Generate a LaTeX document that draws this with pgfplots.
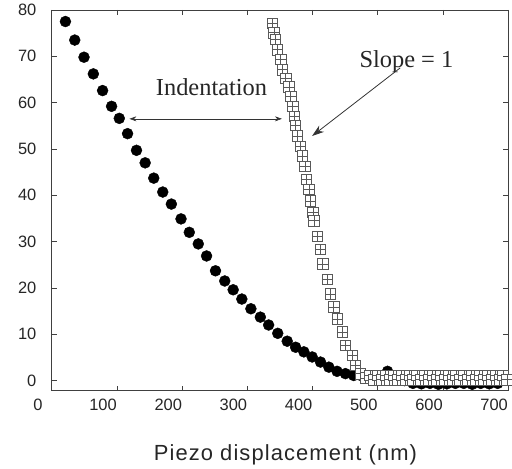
\documentclass[border=0pt]{standalone}
\usepackage{fontspec}
\setmainfont{Liberation Serif}
\newfontfamily\arial{Liberation Sans}
\newfontfamily\arialsp[LetterSpace=5]{Liberation Sans}
\usepackage{pgfplots}
\pgfplotsset{compat=1.18}
\usetikzlibrary{arrows.meta,calc}

% open square with a cross inside
\pgfdeclareplotmark{sqplus}{%
  \pgfpathrectangle{\pgfqpoint{-\pgfplotmarksize}{-\pgfplotmarksize}}{\pgfqpoint{2\pgfplotmarksize}{2\pgfplotmarksize}}%
  \pgfusepathqfillstroke
  \pgfpathmoveto{\pgfqpoint{-\pgfplotmarksize}{0pt}}\pgfpathlineto{\pgfqpoint{\pgfplotmarksize}{0pt}}%
  \pgfpathmoveto{\pgfqpoint{0pt}{-\pgfplotmarksize}}\pgfpathlineto{\pgfqpoint{0pt}{\pgfplotmarksize}}%
  \pgfusepathqstroke}

\pgfplotstableread{
x y
20.9 77.5
35.2 73.5
49.4 69.8
63.7 66.2
77.9 62.6
91.7 59.2
103.5 56.6
116.2 53.3
129.9 49.7
143.2 47.0
156.4 43.7
170.2 40.7
183.4 38.1
198.2 34.9
210.9 32.0
224.7 29.5
237.4 26.9
251.1 23.7
265.3 21.5
278.2 19.6
291.5 17.6
305.4 15.5
319.9 13.7
332.6 12.0
346.6 10.2
361.1 8.5
374.0 7.2
386.7 6.2
399.4 5.1
412.2 4.0
425.0 2.9
437.6 2.0
450.4 1.5
463.1 1.1
476.0 1.0
489.0 1.0
502.0 0.8
515.0 2.0
528.0 0.5
541.0 0.0
554.0 -0.6
567.0 -0.7
580.0 -0.6
593.0 -0.8
606.0 -0.7
619.0 -0.6
632.0 -0.6
645.0 -0.8
658.0 -0.6
671.0 -0.7
684.0 -0.6
}\approach

\pgfplotstableread{
x y
338.2 77.1
340.8 75.1
342.4 73.7
345.9 71.4
351.1 69.4
353.5 67.1
358.7 65.3
363.8 63.4
366.5 61.4
369.5 59.2
371.5 57.1
374.0 55.1
376.5 52.8
381.6 50.6
384.1 48.5
388.2 46.3
390.2 43.4
394.3 41.3
396.9 38.8
400.4 36.3
402.0 34.5
407.0 31.2
412.2 28.4
415.7 25.2
422.3 21.9
427.5 18.7
432.5 15.9
437.6 13.3
445.2 10.5
450.4 7.6
460.5 5.4
465.7 3.3
473.4 1.5
481.0 0.6
488.0 1.1
494.0 0.2
500.0 1.1
506.0 0.2
512.0 1.1
518.0 0.2
524.0 1.1
530.0 0.2
536.0 1.1
542.0 0.2
548.0 1.1
554.0 0.2
560.0 1.1
566.0 0.2
572.0 1.1
578.0 0.2
584.0 1.1
590.0 0.2
596.0 1.1
602.0 0.2
608.0 1.1
614.0 0.2
620.0 1.1
626.0 0.2
632.0 1.1
638.0 0.2
644.0 1.1
650.0 0.2
656.0 1.1
662.0 0.2
668.0 1.1
674.0 0.2
680.0 1.1
686.0 0.2
692.0 1.1
698.0 0.2
}\retract

\begin{document}
\begin{tikzpicture}
\begin{axis}[
    name=ax,
    scale only axis,
    width=458pt,
    height=382pt,
    xmin=0, xmax=700,
    ymin=-2.15, ymax=80,
    xtick={0,100,...,700},
    ytick={0,10,...,80},
    tick align=inside,
    major tick length=5pt,
    xtick pos=both, ytick pos=both,
    axis line style={black!75, line width=0.8pt},
    tick style={black!75, line width=0.8pt},
    /pgf/number format/assume math mode=true,
    ticklabel style={font=\arial\fontsize{16.5}{18}\selectfont, text=black!85},
    xticklabel style={xshift=-14pt, yshift=-5pt},
    yticklabel style={xshift=-12pt},
    xlabel={\arialsp\fontsize{22}{25}\selectfont Piezo displacement (nm)},
    xlabel style={at={(axis description cs:0.512,0)}, anchor=center, yshift=-64.7pt, text=black!85},
    clip=false,
]
\addplot[only marks, mark=*, mark size=5.5pt, black] table {\approach};
\addplot[only marks, mark=sqplus, mark size=5.2pt, draw=black!65, fill=white,
         mark options={line width=0.6pt}] table {\retract};

\node[font=\fontsize{24.5}{28}\selectfont, text=black!85] at (axis cs:245,63.4) {Indentation};
\node[font=\fontsize{24.5}{28}\selectfont, text=black!85] at (axis cs:544,68.9) {Slope = 1};

\draw[black!80, line width=0.6pt, {Stealth[length=7pt,width=5pt]}-{Stealth[length=7pt,width=5pt]}]
    (axis cs:119,56.5) -- (axis cs:353,56.5);
\draw[black!80, line width=0.8pt, -{Stealth[length=12pt,width=8pt]}]
    (axis cs:534.5,67.5) -- (axis cs:399.4,52.8);
\end{axis}
\path[use as bounding box] ($(ax.south west)+(-52pt,-77pt)$) rectangle ($(ax.north east)+(2pt,10pt)$);
\end{tikzpicture}
\end{document}
